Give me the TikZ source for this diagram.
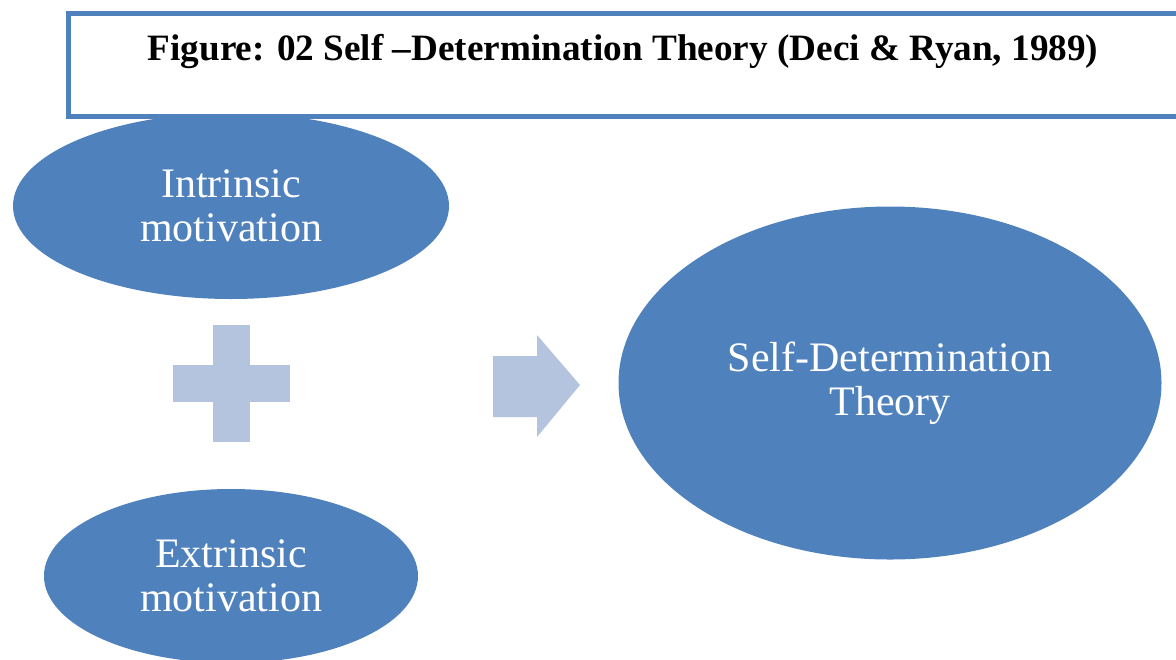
\documentclass[tikz,border=0pt]{standalone}
\usepackage{fontspec}
\setmainfont{Liberation Serif}
\usetikzlibrary{shapes.geometric}

\definecolor{darkblue}{RGB}{79,129,189}
\definecolor{lightblue}{RGB}{180,196,222}

\begin{document}
\begin{tikzpicture}[x=0.5pt, y=-0.5pt,
    bubble/.style={ellipse, fill=darkblue, text=white, inner sep=0pt, align=center,
        font=\fontsize{21pt}{22pt}\selectfont}]

    \useasboundingbox (0,0) rectangle (1176,659);

    % Ellipses
    \node [bubble, minimum width=218pt, minimum height=93pt] (intrinsic) at (231,206) {Intrinsic\\motivation};
    \node [bubble, minimum width=187pt, minimum height=87pt] (extrinsic) at (231,576) {Extrinsic\\motivation};
    \node [bubble, minimum width=271.5pt, minimum height=176.5pt] (sdt) at (890,383) {Self-Determination\\Theory};

    % Title box
    \node [draw=darkblue, line width=2.5pt, fill=white, minimum width=555pt, minimum height=51.5pt,
        inner sep=0pt] (titlebox) at (623.5,65) {};
    \node [font=\fontsize{18.6pt}{20pt}\selectfont\bfseries] (title) at (623,52)
        {Figure: 02 Self --Determination Theory (Deci \& Ryan, 1989)};

    % Plus
    \fill [lightblue] (213,325) rectangle (250,442);
    \fill [lightblue] (173,365) rectangle (290,402);

    % Arrow
    \fill [lightblue] (493,356) -- (537,356) -- (537,335) -- (580,385) -- (537,437) -- (537,417) -- (493,417) -- cycle;

\end{tikzpicture}
\end{document}
